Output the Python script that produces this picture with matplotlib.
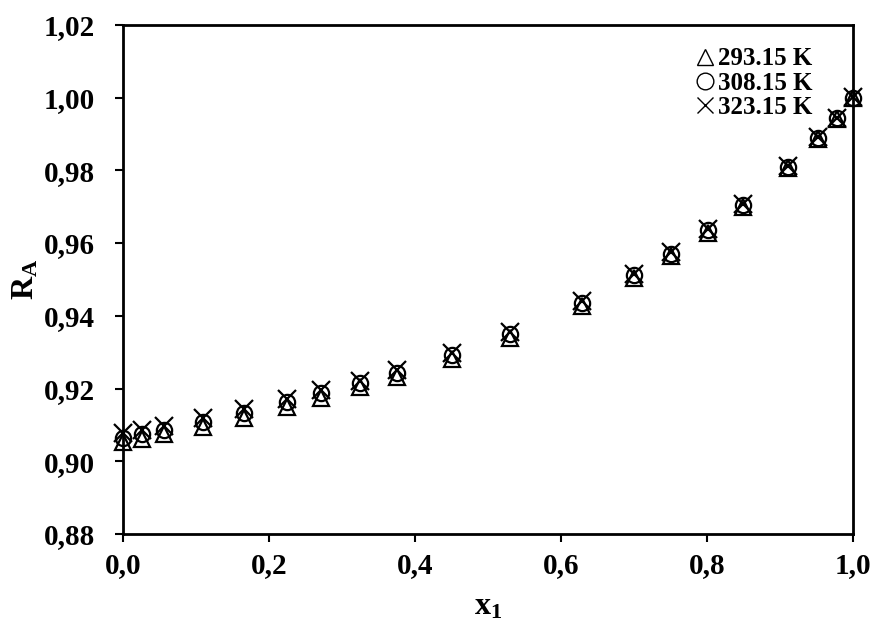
import matplotlib
matplotlib.use("Agg")
import matplotlib.pyplot as plt
from matplotlib.ticker import FuncFormatter

plt.rcParams['font.family'] = ['Liberation Serif', 'DejaVu Serif']
plt.rcParams['font.weight'] = 'bold'
plt.rcParams['mathtext.fontset'] = 'custom'
plt.rcParams['mathtext.rm'] = 'Liberation Serif:bold'
plt.rcParams['mathtext.bf'] = 'Liberation Serif:bold'
plt.rcParams['mathtext.it'] = 'Liberation Serif:bold'

x1 = [0.0, 0.026, 0.056, 0.110, 0.166, 0.225, 0.272, 0.325, 0.376, 0.451,
      0.530, 0.628, 0.700, 0.750, 0.801, 0.849, 0.911, 0.951, 0.977, 1.0]
R_293 = [0.9052, 0.9062, 0.9074, 0.9094, 0.9118, 0.9150, 0.9175, 0.9203, 0.9232, 0.9282,
         0.9340, 0.9427, 0.9503, 0.9565, 0.9628, 0.9700, 0.9805, 0.9886, 0.9942, 1.0000]
R_308 = [0.9065, 0.9074, 0.9087, 0.9107, 0.9133, 0.9163, 0.9188, 0.9215, 0.9243, 0.9292,
         0.9350, 0.9435, 0.9512, 0.9570, 0.9636, 0.9705, 0.9810, 0.9889, 0.9944, 1.0000]
R_323 = [0.9078, 0.9086, 0.9098, 0.9118, 0.9143, 0.9172, 0.9196, 0.9222, 0.9250, 0.9298,
         0.9355, 0.9440, 0.9516, 0.9574, 0.9639, 0.9708, 0.9812, 0.9891, 0.9945, 1.0002]
labels = ['293.15 K', '308.15 K', '323.15 K']
xticks = [0.0, 0.2, 0.4, 0.6, 0.8, 1.0]
yticks = [0.88, 0.90, 0.92, 0.94, 0.96, 0.98, 1.00, 1.02]

fig = plt.figure(figsize=(8.77, 6.35), dpi=100)
ax = fig.add_axes([0.140, 0.159, 0.833, 0.802])

ms = 11
ax.plot(x1, R_293, linestyle='none', marker='^', markersize=ms, markerfacecolor='none',
        markeredgecolor='black', markeredgewidth=1.6, label=labels[0], clip_on=False)
ax.plot(x1, R_308, linestyle='none', marker='o', markersize=ms, markerfacecolor='none',
        markeredgecolor='black', markeredgewidth=1.6, label=labels[1], clip_on=False)
ax.plot(x1, R_323, linestyle='none', marker='x', markersize=ms + 2, markerfacecolor='none',
        markeredgecolor='black', markeredgewidth=1.6, label=labels[2], clip_on=False)

ax.set_xlim(0, 1.0)
ax.set_ylim(0.88, 1.02)
ax.set_xticks(xticks)
ax.set_yticks(yticks)
ax.xaxis.set_major_formatter(FuncFormatter(lambda v, p: f"{v:.1f}".replace('.', ',')))
ax.yaxis.set_major_formatter(FuncFormatter(lambda v, p: f"{v:.2f}".replace('.', ',')))
ax.tick_params(axis='both', direction='out', length=6, width=1.5, labelsize=21)
ax.tick_params(axis='y', pad=14)
ax.tick_params(axis='x', pad=7)
for lab in ax.get_xticklabels() + ax.get_yticklabels():
    lab.set_fontweight('bold')
for s in ax.spines.values():
    s.set_linewidth(2)

ax.set_xlabel(r'$\mathbf{x_1}$', fontsize=23, labelpad=10)
ax.set_ylabel(r'$\mathbf{R_A}$', fontsize=23, labelpad=2)

leg = ax.legend(loc='upper right', bbox_to_anchor=(0.965, 0.985), frameon=False,
                prop={'family': 'Liberation Serif', 'weight': 'bold', 'size': 18},
                handlelength=0.8, handletextpad=0.15, labelspacing=0.05,
                borderaxespad=0.2)
for h in leg.legend_handles:
    h.set_markeredgewidth(1.0)
    h.set_markersize(12)

fig.savefig('out.png', dpi=100)
